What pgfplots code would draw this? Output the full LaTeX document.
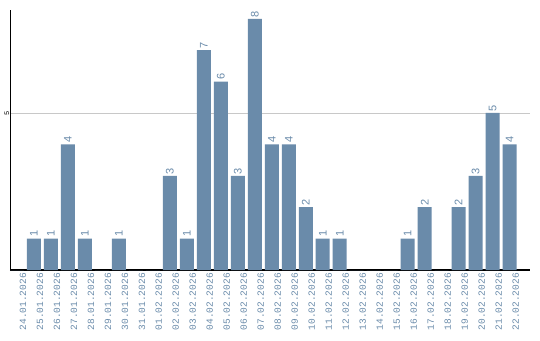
\documentclass[border=0pt]{standalone}
\usepackage{pgfplots}
\pgfplotsset{compat=1.18}
\usepackage{fontspec}
\setmainfont{Liberation Sans}
\newfontfamily\monof{Liberation Mono}
\definecolor{barblue}{RGB}{106,139,170}
\definecolor{gridgray}{RGB}{200,200,200}
\begin{document}
\begin{tikzpicture}
\path[use as bounding box] (0,0) rectangle (540pt,340pt);
\begin{axis}[
  at={(10.5pt,70pt)}, anchor=south west,
  scale only axis, width=519.5pt, height=260pt,
  xmin=-0.38, xmax=30.2, ymin=0, ymax=8.28,
  /pgf/number format/assume math mode=true,
  axis x line*=bottom, axis y line*=left,
  axis line style={black, line width=1.2pt, -},
  ybar, bar width=14pt, bar shift=0pt,
  ytick={5}, yticklabels={5},
  yticklabel style={rotate=90, font=\monof\fontsize{7}{8}\selectfont, black, anchor=south, inner sep=1pt},
  ymajorgrids, grid style={gridgray, line width=0.8pt},
  major tick length=0pt,
  xtick={0,...,29},
  xticklabels={24.01.2026,25.01.2026,26.01.2026,27.01.2026,28.01.2026,29.01.2026,30.01.2026,31.01.2026,01.02.2026,02.02.2026,03.02.2026,04.02.2026,05.02.2026,06.02.2026,07.02.2026,08.02.2026,09.02.2026,10.02.2026,11.02.2026,12.02.2026,13.02.2026,14.02.2026,15.02.2026,16.02.2026,17.02.2026,18.02.2026,19.02.2026,20.02.2026,21.02.2026,22.02.2026},
  xticklabel style={rotate=90, anchor=east, font=\monof\fontsize{9.5}{10}\selectfont, text=barblue, inner sep=0pt, xshift=-3pt, yshift=-6pt},
  nodes near coords={\pgfmathfloatifflags{\pgfplotspointmeta}{0}{}{\pgfmathprintnumber{\pgfplotspointmeta}}},
  every node near coord/.append style={rotate=90, anchor=west, font=\fontsize{11}{12}\selectfont, text=barblue, inner sep=1.5pt},
  clip=false,
]
\addplot[fill=barblue, draw=none] coordinates {
(0,0) (1,1) (2,1) (3,4) (4,1) (5,0) (6,1) (7,0) (8,0) (9,3)
(10,1) (11,7) (12,6) (13,3) (14,8) (15,4) (16,4) (17,2) (18,1) (19,1)
(20,0) (21,0) (22,0) (23,1) (24,2) (25,0) (26,2) (27,3) (28,5) (29,4)
};
\end{axis}
\end{tikzpicture}
\end{document}
